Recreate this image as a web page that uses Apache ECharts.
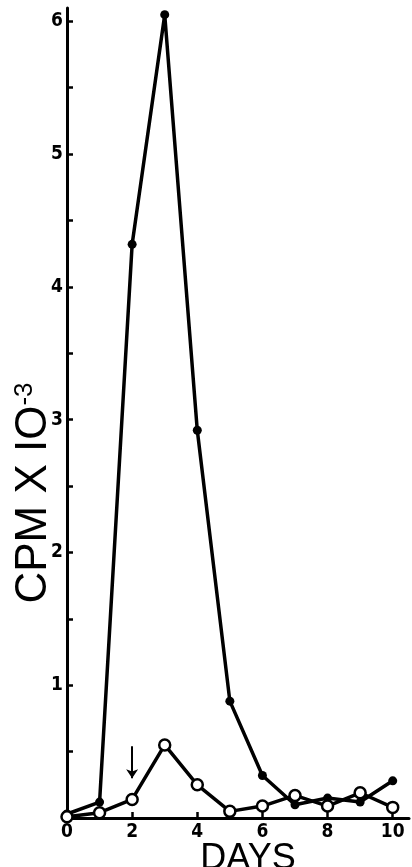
<!DOCTYPE html>
<html>
<head>
<meta charset="utf-8">
<script src="https://cdn.jsdelivr.net/npm/echarts@6/dist/echarts.min.js"></script>
<style>
    html, body { margin: 0; padding: 0; background: #fff; }
    #LineMain { width: 412px; height: 867px; }
</style>
</head>
<body>
<div id="LineMain"></div>
<script>
var days = [0, 1, 2, 3, 4, 5, 6, 7, 8, 9, 10];
var closedCpm = [0.03, 0.12, 4.32, 6.05, 2.92, 0.88, 0.32, 0.10, 0.15, 0.12, 0.28];
var openCpm = [0.01, 0.04, 0.14, 0.55, 0.25, 0.05, 0.09, 0.17, 0.09, 0.19, 0.08];

var dayTicks = [2, 4, 6, 8, 10];
var dayLabels = [0, 2, 4, 6, 8, 10];
var cpmTicks = [0.5, 1, 1.5, 2, 2.5, 3, 3.5, 4, 4.5, 5, 5.5, 6];
var cpmLabels = [1, 2, 3, 4, 5, 6];

// arrow marking day 2
var arrowDay = 2;
var arrowFrom = 0.54;
var arrowTo = 0.30;

var tickFont = '"Liberation Sans Narrow", "DejaVu Sans Condensed", sans-serif';
var nameFont = '"Liberation Sans", Arial, sans-serif';

function pairs(values) {
    var out = [];
    for (var i = 0; i < days.length; ++i) {
        out.push([days[i], values[i]]);
    }
    return out;
}

var myChart = echarts.init(document.getElementById('LineMain'));

var option = {
    backgroundColor: '#fff',
    animation: false,
    grid: {
        left: 67,
        right: 3,
        top: 8,
        bottom: 49,
        containLabel: false,
        outerBoundsMode: 'none'
    },
    xAxis: {
        type: 'value',
        min: 0,
        max: 10.5,
        name: 'DAYS',
        nameLocation: 'middle',
        nameGap: 23,
        nameMoveOverlap: false,
        nameTextStyle: {
            fontFamily: nameFont,
            fontSize: 36,
            color: '#000',
            padding: [0, 0, 0, 20]
        },
        axisLine: { lineStyle: { color: '#000', width: 3 } },
        axisTick: {
            inside: true,
            length: 6,
            customValues: dayTicks,
            lineStyle: { color: '#000', width: 2.5 }
        },
        axisLabel: {
            customValues: dayLabels,
            margin: 5,
            fontFamily: tickFont,
            fontWeight: 'bold',
            fontSize: 19,
            color: '#000'
        },
        splitLine: { show: false }
    },
    yAxis: {
        type: 'value',
        min: 0,
        max: 6.1,
        name: '{m|CPM X IO}{s|-3}',
        nameLocation: 'middle',
        nameRotate: 90,
        nameGap: 11,
        nameMoveOverlap: false,
        nameTextStyle: {
            color: '#000',
            padding: [0, 160, 0, 0],
            rich: {
                m: {
                    fontFamily: nameFont,
                    fontSize: 44,
                    lineHeight: 44,
                    padding: [10, 0, 0, 0],
                    verticalAlign: 'bottom',
                    color: '#000'
                },
                s: {
                    fontFamily: nameFont,
                    fontSize: 26,
                    lineHeight: 26,
                    verticalAlign: 'top',
                    color: '#000'
                }
            }
        },
        axisLine: { lineStyle: { color: '#000', width: 3 } },
        axisTick: {
            inside: true,
            length: 6,
            customValues: cpmTicks,
            lineStyle: { color: '#000', width: 2.5 }
        },
        axisLabel: {
            customValues: cpmLabels,
            margin: 4,
            fontFamily: tickFont,
            fontWeight: 'bold',
            fontSize: 19,
            color: '#000'
        },
        splitLine: { show: false }
    },
    series: [{
        name: 'closed',
        type: 'line',
        data: pairs(closedCpm),
        symbol: 'circle',
        symbolSize: 9,
        itemStyle: { color: '#000' },
        lineStyle: { color: '#000', width: 3.5 },
        markLine: {
            silent: true,
            symbol: ['none', 'arrow'],
            symbolSize: 9,
            label: { show: false },
            lineStyle: { color: '#000', width: 2, type: 'solid' },
            data: [[{ coord: [arrowDay, arrowFrom] }, { coord: [arrowDay, arrowTo] }]]
        }
    }, {
        name: 'open',
        type: 'line',
        data: pairs(openCpm),
        symbol: 'circle',
        symbolSize: 11,
        itemStyle: { color: '#fff', borderColor: '#000', borderWidth: 2.5 },
        lineStyle: { color: '#000', width: 3.5 }
    }]
};

myChart.setOption(option);
</script>
</body>
</html>
